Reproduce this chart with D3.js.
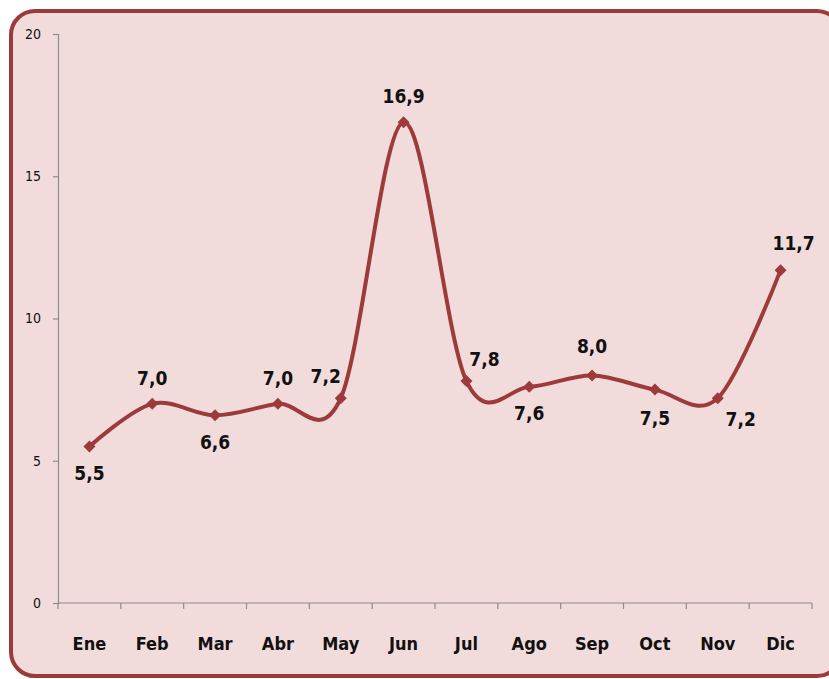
<!DOCTYPE html>
<html>
<head>
<meta charset="utf-8">
<script src="https://cdn.jsdelivr.net/npm/d3@7"></script>
<style>
  body { margin: 0; background: #fff; }
  svg { display: block; }
</style>
</head>
<body>
<div id="chart"></div>
<script>
const width = 829;
const height = 679;

const months = ["Ene", "Feb", "Mar", "Abr", "May", "Jun", "Jul", "Ago", "Sep", "Oct", "Nov", "Dic"];
const values = [5.5, 7.0, 6.6, 7.0, 7.2, 16.9, 7.8, 7.6, 8.0, 7.5, 7.2, 11.7];
const yTicks = [0, 5, 10, 15, 20];
// where each data label sits relative to its point: [dx, dy]
const labelPos = [[0, 27], [0, -26], [0, 27], [0, -26], [-15, -22], [0, -26], [18, -22], [0, 27], [0, -29], [0, 29], [23, 21], [13, -27]];

const fontFam = "'Liberation Sans Narrow', 'DejaVu Sans Condensed', Lato, sans-serif";
const lineColor = "#9c3b3a";

const svg = d3.select("#chart").append("svg")
    .attr("width", width)
    .attr("height", height);

// rounded frame, runs a bit past the right/bottom edge
svg.append("rect")
    .attr("x", 11).attr("y", 11)
    .attr("width", 830).attr("height", 665)
    .attr("rx", 24)
    .attr("fill", "#f2dcdb")
    .attr("stroke", "#9b3a38")
    .attr("stroke-width", 4);

const x = d3.scaleBand()
    .domain(months)
    .range([58, 812]);

const y = d3.scaleLinear()
    .domain([0, 20])
    .range([603, 34]);

// y axis
const yAxis = svg.append("g")
    .attr("transform", "translate(58,0)")
    .call(d3.axisLeft(y).tickValues(yTicks).tickSize(5).tickPadding(12));
yAxis.select(".domain").attr("stroke", "#8c8c8c").attr("stroke-width", 1.2);
yAxis.selectAll(".tick line").attr("stroke", "#8c8c8c").attr("stroke-width", 1.2);
yAxis.selectAll(".tick text")
    .attr("font-family", fontFam)
    .attr("font-size", 14)
    .attr("fill", "#111");

// x axis with ticks at category boundaries
const xg = svg.append("g").attr("transform", "translate(0,603)");
xg.append("line")
    .attr("x1", 58).attr("x2", 812)
    .attr("stroke", "#8c8c8c").attr("stroke-width", 1.2);
const bounds = months.map(m => x(m)).concat([x.range()[1]]);
xg.selectAll(".xt")
    .data(bounds)
    .join("line")
    .attr("class", "xt")
    .attr("x1", d => d).attr("x2", d => d)
    .attr("y1", 0).attr("y2", 6)
    .attr("stroke", "#8c8c8c").attr("stroke-width", 1.2);
xg.selectAll(".xl")
    .data(months)
    .join("text")
    .attr("class", "xl")
    .attr("x", d => x(d) + x.bandwidth() / 2)
    .attr("y", 47)
    .attr("text-anchor", "middle")
    .attr("font-family", fontFam)
    .attr("font-weight", "bold")
    .attr("font-size", 18)
    .attr("fill", "#111")
    .text(d => d);

const cx = (d, i) => x(months[i]) + x.bandwidth() / 2;

const line = d3.line()
    .x(cx)
    .y(d => y(d))
    .curve(d3.curveCardinal.tension(0));

svg.append("path")
    .datum(values)
    .attr("d", line)
    .attr("fill", "none")
    .attr("stroke", lineColor)
    .attr("stroke-width", 4);

svg.selectAll(".pt")
    .data(values)
    .join("path")
    .attr("class", "pt")
    .attr("d", d3.symbol(d3.symbolSquare, 72))
    .attr("transform", (d, i) => `translate(${cx(d, i)},${y(d)}) rotate(45)`)
    .attr("fill", lineColor);

svg.selectAll(".lbl")
    .data(values)
    .join("text")
    .attr("class", "lbl")
    .attr("x", (d, i) => cx(d, i) + labelPos[i][0])
    .attr("y", (d, i) => y(d) + labelPos[i][1])
    .attr("dy", "0.35em")
    .attr("text-anchor", "middle")
    .attr("font-family", fontFam)
    .attr("font-weight", "bold")
    .attr("font-size", 19)
    .attr("fill", "#111")
    .text(d => d.toFixed(1).replace(".", ","));
</script>
</body>
</html>
